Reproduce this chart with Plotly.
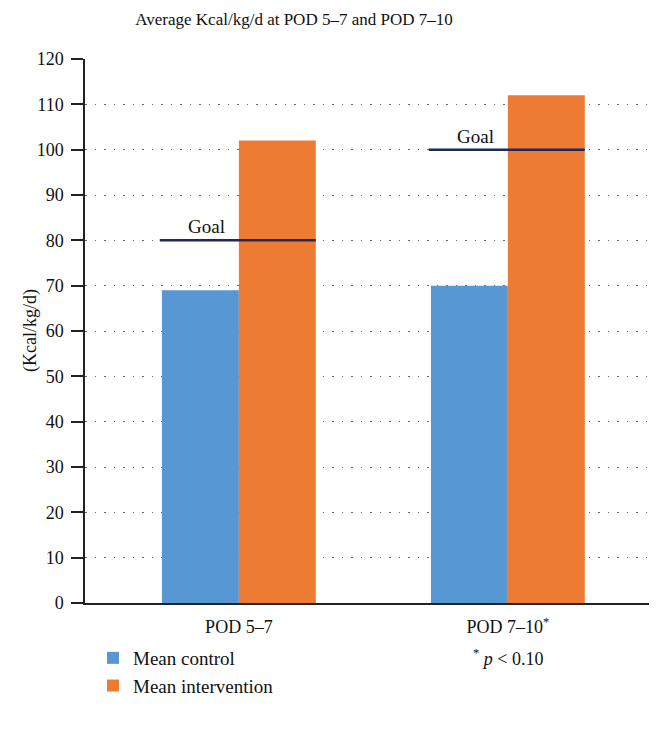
import plotly.graph_objects as go

categories = ["POD 5–7", "POD 7–10"]
category_labels = ["POD 5–7", "POD 7–10<sup>*</sup>"]
footnote = "<sup>*</sup> <i>p</i> &lt; 0.10"
mean_control = [69, 70]
mean_intervention = [102, 112]
goals = [80, 100]
y_ticks = list(range(0, 121, 10))

FONT = "Liberation Serif"
BAR_W = 0.286
# page body has an 8px margin; compensate so the figure fills the 657x736 window
OFF = 8
W, H = 657 - OFF, 736 - OFF
L, R, T, B = 85 - OFF, 2, 59 - OFF, 133
PW, PH = W - L - R, H - T - B

fig = go.Figure()
fig.add_trace(go.Bar(x=[0, 1], y=mean_control, name="Mean control", legendgroup="c",
                     marker=dict(color="#5797d3", line=dict(width=0))))
fig.add_trace(go.Bar(x=[0, 1], y=mean_intervention, name="Mean intervention", legendgroup="i",
                     marker=dict(color="#ee7b33", line=dict(width=0))))

for i, g in enumerate(goals):
    fig.add_shape(type="line", xref="x", yref="y", x0=i - BAR_W - 0.008, x1=i + BAR_W,
                  y0=g, y1=g, line=dict(color="#1f2a5a", width=2.5), layer="above")
    fig.add_annotation(x=i - 0.12, y=g, xref="x", yref="y", text="Goal", showarrow=False,
                       yanchor="bottom", yshift=1, font=dict(family=FONT, size=19, color="#111"))

fig.add_annotation(x=1, y=-54 / PH, xref="x", yref="paper", text=footnote, showarrow=False,
                   yanchor="middle", font=dict(family=FONT, size=18, color="#111"))
fig.add_annotation(x=-(85 - 30) / PW, y=0.5, xref="paper", yref="paper", text="(Kcal/kg/d)",
                   textangle=-90, showarrow=False, xanchor="center", yanchor="middle",
                   font=dict(family=FONT, size=18, color="#111"))

fig.update_layout(
    width=W, height=H,
    margin=dict(l=L, r=R, t=T, b=B),
    paper_bgcolor="white", plot_bgcolor="white",
    barmode="group", bargap=0.428, bargroupgap=0,
    font=dict(family=FONT, size=18, color="#111"),
    title=dict(text="Average Kcal/kg/d at POD 5–7 and POD 7–10", x=(294 - OFF) / W, xanchor="center",
               y=1 - (19 - OFF) / H, yanchor="middle", font=dict(family=FONT, size=17, color="#111")),
    showlegend=True,
    legend=dict(x=(93 - 85) / PW, y=-36 / PH, xanchor="left", yanchor="top", orientation="v",
                font=dict(family=FONT, size=19), tracegroupgap=0, itemwidth=30),
    xaxis=dict(range=[-0.572, 1.547], tickmode="array", tickvals=[0, 1], ticktext=category_labels,
               showgrid=False, zeroline=False, showline=True, linecolor="#222", linewidth=1.5,
               ticks="", ticklabelstandoff=7, tickfont=dict(family=FONT, size=18), automargin=False),
    yaxis=dict(range=[0, 120], tickmode="array", tickvals=y_ticks, showgrid=True, gridcolor="#666",
               griddash="1.5px,8px", gridwidth=1.2, zeroline=False, showline=True, linecolor="#222",
               linewidth=1.5, ticks="outside", ticklen=12, tickwidth=1.5, tickcolor="#222",
               ticklabelstandoff=4, automargin=False,
               tickfont=dict(family=FONT, size=18)),
)

fig.write_html("out.html")
